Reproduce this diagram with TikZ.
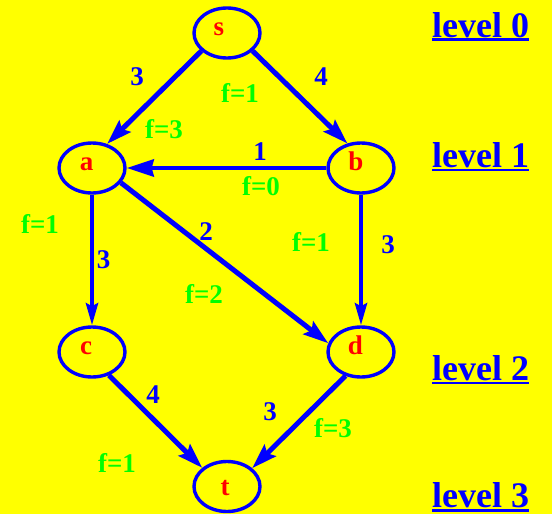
\documentclass[tikz,border=0pt]{standalone}
\usepackage{fontspec}
\setmainfont{Liberation Serif}
\usetikzlibrary{shapes.geometric,arrows.meta}
\definecolor{bg}{RGB}{255,255,0}
\definecolor{eblue}{RGB}{0,0,255}
\definecolor{lred}{RGB}{255,0,0}
\definecolor{lgreen}{RGB}{0,255,0}
\newcommand{\lvlul}[1]{\setbox0\hbox{#1}\rlap{\copy0}\vrule width\wd0 height -1.5pt depth 4.2pt}
\begin{document}
\begin{tikzpicture}[x=1pt,y=-1pt,
  vert/.style={ellipse,draw=eblue,line width=3.4pt,minimum width=66pt,minimum height=50pt,inner sep=0pt},
  vlbl/.style={anchor=base,inner sep=0pt,text=lred,font=\bfseries\fontsize{27}{30}\selectfont},
  capacity/.style={anchor=base,inner sep=0pt,text=eblue,font=\bfseries\fontsize{27}{30}\selectfont},
  flow/.style={anchor=base,inner sep=0pt,text=lgreen,font=\bfseries\fontsize{27}{30}\selectfont},
  lvl/.style={anchor=base west,inner sep=0pt,text=eblue,font=\bfseries\fontsize{36}{40}\selectfont},
  edge/.style={draw=eblue,line width=5pt},
  edgeS/.style={draw=eblue,line width=4.3pt},
  bigtip/.style={-{Stealth[length=25pt,width=16pt,inset=4pt]}},
  htip/.style={-{Stealth[length=27pt,width=17pt,inset=2pt]}},
  vtip/.style={-{Stealth[length=22pt,width=12pt,inset=3pt]}}]
\fill[bg] (0,0) rectangle (552,514);
\useasboundingbox (0,0) rectangle (552,514);
% vertices
\node[vert] (s) at (227,33) {};
\node[vert] (a) at (92,168) {};
\node[vert] (b) at (361,168) {};
\node[vert] (c) at (92,352) {};
\node[vert] (d) at (361,352) {};
\node[vert] (t) at (227,486.5) {};
\node[vlbl] (ls) at (219,35) {s};
\node[vlbl] (la) at (86.5,170) {a};
\node[vlbl] (lb) at (356,170) {b};
\node[vlbl] (lc) at (86,354) {c};
\node[vlbl] (ld) at (355.5,354) {d};
\node[vlbl] (lt) at (225,495) {t};
% edges
\draw[edge,bigtip] (s.215) -- (a.58);
\draw[edge,bigtip] (s.-35) -- (b.119);
\draw[edgeS,htip] (b.west) -- (a.east);
\draw[edgeS,vtip] (a.south) -- (c.north);
\draw[edgeS,vtip] (b.south) -- (d.north);
\draw[edge,bigtip] (a.-27) -- (d.165);
\draw[edge,bigtip] (c.-54) -- (t.143);
\draw[edge,bigtip] (d.237) -- (t.36);
% capacities
\node[capacity] (c1) at (137,85) {3};
\node[capacity] (c2) at (321,85) {4};
\node[capacity] (c3) at (260,160) {1};
\node[capacity] (c4) at (206,240) {2};
\node[capacity] (c5) at (103.5,268) {3};
\node[capacity] (c6) at (388,253) {3};
\node[capacity] (c7) at (153,403) {4};
\node[capacity] (c8) at (270,420) {3};
% flows
\node[flow] (f1) at (240,102) {f=1};
\node[flow] (f2) at (164,138) {f=3};
\node[flow] (f3) at (261,195) {f=0};
\node[flow] (f4) at (40,233) {f=1};
\node[flow] (f5) at (311,251) {f=1};
\node[flow] (f6) at (204,303) {f=2};
\node[flow] (f7) at (333,437) {f=3};
\node[flow] (f8) at (117,472) {f=1};
% levels
\node[lvl] (v0) at (432,37) {\lvlul{level 0}};
\node[lvl] (v1) at (432,167) {\lvlul{level 1}};
\node[lvl] (v2) at (432,380) {\lvlul{level 2}};
\node[lvl] (v3) at (432,507.5) {\lvlul{level 3}};
\end{tikzpicture}
\end{document}
